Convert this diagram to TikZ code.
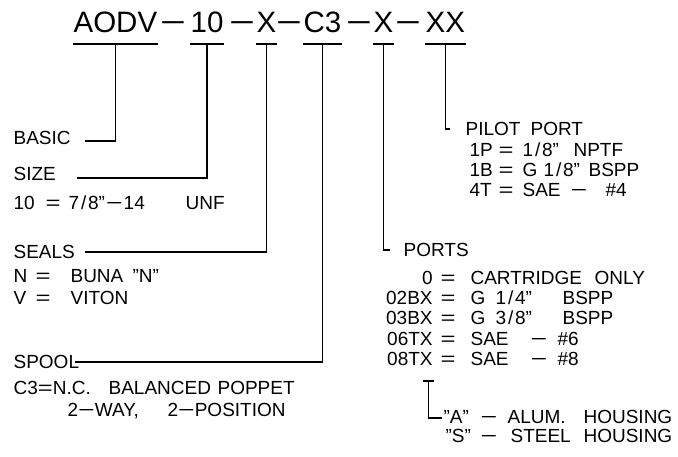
\documentclass[tikz,border=0pt]{standalone}
\usepackage{fontspec}
\usepackage{graphicx}
\setmainfont{Liberation Sans}
\usetikzlibrary{calc}

% tab stops and wide glyphs of the drawing font
\newcommand{\tb}[2]{\makebox[#1pt][l]{#2}}
\newcommand{\pc}[1]{\makebox[44pt][r]{#1}\hspace{8pt}}
\newcommand{\slsh}{\makebox[9pt]{/}}
\newcommand{\dsh}{\scalebox{1.5}[1]{−}}
\newcommand{\eq}{\scalebox{1.35}[1]{=}}

\begin{document}
\begin{tikzpicture}[x=1pt, y=-1pt, line width=1.2pt,
  txt/.style={anchor=base west, inner sep=0pt, font=\fontsize{19}{22}\selectfont},
  big/.style={anchor=base west, inner sep=0pt, font=\fontsize{29.5}{34}\selectfont}]
  \useasboundingbox (0,0) rectangle (678,457);

  % MODEL CODE
  \node[big] (t1) at (73,33) {AODV};
  \node[big] (t2) at (190,33) {10};
  \node[big] (t3) at (256,33) {X};
  \node[big] (t4) at (303,33) {C3};
  \node[big] (t5) at (373,33) {X};
  \node[big] (t6) at (425,33) {XX};
  \node[big, anchor=base] (d1) at (173,33) {\dsh};
  \node[big, anchor=base] (d2) at (242,33) {\dsh};
  \node[big, anchor=base] (d3) at (289,33) {\dsh};
  \node[big, anchor=base] (d4) at (359,33) {\dsh};
  \node[big, anchor=base] (d5) at (408,33) {\dsh};

  % underlines
  \foreach \i in {1,...,6} {
    \draw ($(t\i.base west)+(0,11)$) -- ($(t\i.base east)+(0,11)$);
    \coordinate (u\i) at ($(t\i.base)+(0,11)$);
  }

  % LEFT COLUMN
  \node[txt] (basic) at (13,145) {BASIC};
  \node[txt] (size) at (13,181) {SIZE};
  \node[txt] (sizeopt) at (13,210) {\tb{32}{10}\tb{23}{\eq}\tb{117}{7\slsh8”\kern1pt\dsh\kern1pt14}UNF};
  \node[txt] (seals) at (13,259) {SEALS};
  \node[txt] (sealn) at (13,283) {\tb{22}{N}\tb{35}{\eq}\tb{62}{BUNA}”N”};
  \node[txt] (sealv) at (13,305) {\tb{22}{V}\tb{35}{\eq}VITON};
  \node[txt] (spool) at (13,368) {SPOOL};
  \node[txt] (spoolc) at (13,394) {\tb{95}{C3\eq N.C.}\tb{109}{BALANCED}POPPET};
  \node[txt] (spoolw) at (67,416) {\tb{100}{2\dsh WAY,}2\dsh POSITION};

  % PILOT PORT
  \node[txt] (pilot) at (465,136) {\tb{65}{PILOT}PORT};
  \node[txt] (q1) at (469,157) {\tb{29}{1P}\tb{24}{\eq}\tb{51}{1\slsh8”}NPTF};
  \node[txt] (q2) at (469,177) {\tb{29}{1B}\tb{24}{\eq}\tb{21}{G}\tb{45}{1\slsh8”}BSPP};
  \node[txt] (q3) at (469,197) {\tb{29}{4T}\tb{24}{\eq}\tb{48}{SAE}\tb{35}{\dsh}\#4};

  % PORTS
  \node[txt] (ports) at (403,257) {PORTS};
  \node[txt] (p1) at (388,285) {\pc{0}\tb{30}{\eq}\tb{124}{CARTRIDGE}ONLY};
  \node[txt] (p2) at (388,305) {\pc{02BX}\tb{30}{\eq}\tb{25}{G}\tb{67}{1\slsh4”}BSPP};
  \node[txt] (p3) at (388,325) {\pc{03BX}\tb{30}{\eq}\tb{25}{G}\tb{67}{3\slsh8”}BSPP};
  \node[txt] (p4) at (388,345) {\pc{06TX}\tb{30}{\eq}\tb{60}{SAE}\tb{27}{\dsh}\#6};
  \node[txt] (p5) at (388,366) {\pc{08TX}\tb{30}{\eq}\tb{60}{SAE}\tb{27}{\dsh}\#8};

  % HOUSING
  \node[txt] (ha) at (443,423) {\tb{37}{”A”}\tb{27}{\dsh}\tb{76}{ALUM.}HOUSING};
  \node[txt] (hs) at (445,442) {\tb{35}{”S”}\tb{30}{\dsh}\tb{73}{STEEL}HOUSING};

  % leaders
  \coordinate (basicend) at (85,141);
  \coordinate (sizeend) at (77,178);
  \coordinate (sealsend) at (85,252);
  \coordinate (spoolend) at (75,362);
  \coordinate (portsend) at (390,250);
  \coordinate (pilotend) at (450,129);
  \draw (u1) |- (basicend);
  \draw (u2) |- (sizeend);
  \draw (u3) |- (sealsend);
  \draw (u4) |- (spoolend);
  \draw (u5) |- (portsend);
  \draw (u6) |- (pilotend);

  % housing letter under 08TX
  \coordinate (xl) at ($(p5.base west)+(35,15)$);
  \coordinate (xr) at ($(p5.base west)+(46,15)$);
  \coordinate (xm) at ($(xl)!0.5!(xr)$);
  \coordinate (housingend) at (442,418);
  \draw (xl) -- (xr);
  \draw (xm) |- (housingend);
\end{tikzpicture}
\end{document}
